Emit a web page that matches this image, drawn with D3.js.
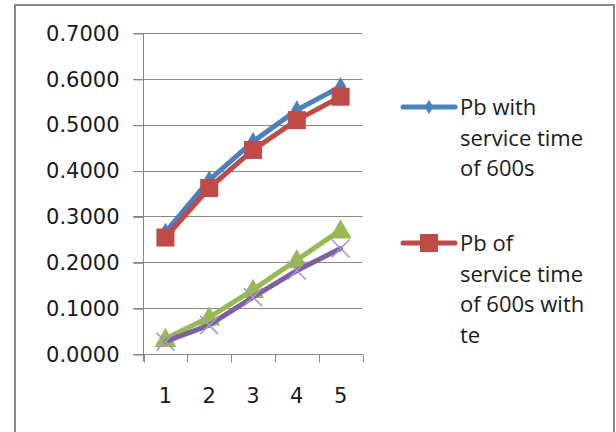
<!DOCTYPE html>
<html>
<head>
<meta charset="utf-8">
<script src="https://cdn.jsdelivr.net/npm/d3@7"></script>
<style>
  html, body { margin: 0; padding: 0; background: #ffffff; }
  svg { display: block; }
</style>
</head>
<body>
<svg id="chart" width="616" height="432"></svg>
<script>
// Blocking probability per run, four series
const categories = ["1", "2", "3", "4", "5"];
const pbService600 = [0.2650, 0.3790, 0.4630, 0.5320, 0.5830];
const pbService600Te = [0.2540, 0.3620, 0.4450, 0.5100, 0.5610];
const series3 = [0.0330, 0.0800, 0.1400, 0.2050, 0.2700];
const series4 = [0.0270, 0.0630, 0.1240, 0.1820, 0.2300];
const yTicks = [0, 0.1, 0.2, 0.3, 0.4, 0.5, 0.6, 0.7];
const legendLines1 = ["Pb with", "service time", "of 600s"];
const legendLines2 = ["Pb of", "service time", "of 600s with", "te"];

const series = [
  { values: pbService600, color: "#4D81BD", marker: "diamond" },
  { values: pbService600Te, color: "#BE4B48", marker: "square" },
  { values: series3, color: "#98B954", marker: "triangle" },
  { values: series4, color: "#7D60A0", marker: "cross" }
];

const svg = d3.select("#chart");
const axisColor = "#868686";
const labelFont = "'DejaVu Sans', Verdana, sans-serif";

// Outer frame
svg.append("rect")
  .attr("x", 15).attr("y", 5)
  .attr("width", 599).attr("height", 440)
  .attr("fill", "#ffffff")
  .attr("stroke", "#8a8a8a").attr("stroke-width", 2);

const x = d3.scaleBand().domain(categories).range([143.5, 362.5]).padding(0);
const y = d3.scaleLinear().domain([0, 0.7]).range([354, 33]);

// Horizontal gridlines
svg.append("g")
  .selectAll("line")
  .data(yTicks)
  .join("line")
  .attr("x1", 133).attr("x2", 362.5)
  .attr("y1", d => Math.round(y(d)) + 0.5)
  .attr("y2", d => Math.round(y(d)) + 0.5)
  .attr("stroke", axisColor).attr("stroke-width", 1);

// Y axis
const yAxis = svg.append("g")
  .attr("transform", "translate(143.5,0.5)")
  .call(d3.axisLeft(y).tickValues(yTicks).tickFormat(d3.format(".4f")).tickSize(10).tickPadding(14));
yAxis.select(".domain").attr("stroke", axisColor).attr("d", `M0,${y(0.7)}V${y(0) + 7}`);
yAxis.selectAll(".tick line").attr("stroke", axisColor);
yAxis.selectAll(".tick text")
  .attr("fill", "#1a1a1a")
  .style("font-family", labelFont)
  .style("font-size", "21px");

// X axis: category labels centred in bands, tick marks on band edges
const xAxis = svg.append("g").attr("transform", `translate(0,${Math.round(y(0)) + 0.5})`);
xAxis.append("line")
  .attr("x1", 133).attr("x2", 362.5)
  .attr("stroke", axisColor);
const edges = categories.map(c => x(c)).concat([x(categories[categories.length - 1]) + x.bandwidth()]);
xAxis.selectAll("line.edge")
  .data(edges)
  .join("line")
  .attr("class", "edge")
  .attr("x1", d => Math.round(d) + 0.5).attr("x2", d => Math.round(d) + 0.5)
  .attr("y1", 0).attr("y2", 8)
  .attr("stroke", axisColor);
xAxis.selectAll("text")
  .data(categories)
  .join("text")
  .attr("x", d => x(d) + x.bandwidth() / 2)
  .attr("y", 48)
  .attr("text-anchor", "middle")
  .attr("fill", "#1a1a1a")
  .style("font-family", labelFont)
  .style("font-size", "21px")
  .text(d => d);

// Marker shapes
function drawMarker(g, type, cx, cy, color, scale) {
  const s = scale || 1;
  if (type === "diamond") {
    g.append("path")
      .attr("d", d3.symbol(d3.symbolDiamond, 110 * s * s)())
      .attr("transform", `translate(${cx},${cy})`)
      .attr("fill", color);
  } else if (type === "square") {
    const h = 9 * s;
    g.append("rect")
      .attr("x", cx - h).attr("y", cy - h)
      .attr("width", 2 * h).attr("height", 2 * h)
      .attr("fill", color);
  } else if (type === "triangle") {
    const h = 11 * s;
    g.append("path")
      .attr("d", `M${cx},${cy - h}L${cx + h},${cy + h * 0.75}L${cx - h},${cy + h * 0.75}Z`)
      .attr("fill", color);
  } else if (type === "cross") {
    const h = 9 * s;
    g.append("path")
      .attr("d", `M${cx - h},${cy - h}L${cx + h},${cy + h}M${cx - h},${cy + h}L${cx + h},${cy - h}`)
      .attr("stroke", "#a995c6").attr("stroke-width", 1.5).attr("fill", "none");
  }
}

const cx = d => x(d) + x.bandwidth() / 2;
const line = d3.line().x(d => cx(d.cat)).y(d => y(d.v));

series.forEach(s => {
  const pts = categories.map((c, i) => ({ cat: c, v: s.values[i] }));
  const g = svg.append("g");
  g.append("path")
    .datum(pts)
    .attr("d", line)
    .attr("fill", "none")
    .attr("stroke", s.color)
    .attr("stroke-width", 5)
    .attr("stroke-linejoin", "round")
    .attr("stroke-linecap", "round");
  pts.forEach(p => drawMarker(g, s.marker, cx(p.cat), y(p.v), s.color));
});

// Legend
const legend = [
  { lines: legendLines1, s: series[0], y: 107 },
  { lines: legendLines2, s: series[1], y: 243 }
];
legend.forEach(item => {
  const g = svg.append("g");
  g.append("line")
    .attr("x1", 403).attr("x2", 455)
    .attr("y1", item.y).attr("y2", item.y)
    .attr("stroke", item.s.color).attr("stroke-width", 5)
    .attr("stroke-linecap", "round");
  drawMarker(g, item.s.marker, 429, item.y, item.s.color, item.s.marker === "diamond" ? 0.75 : 1);
  const t = g.append("text")
    .attr("x", 460)
    .attr("y", item.y + 8)
    .attr("fill", "#1a1a1a")
    .style("font-family", "'Open Sans', sans-serif")
    .style("font-size", "22px");
  item.lines.forEach((ln, i) => {
    t.append("tspan").attr("x", 460).attr("dy", i === 0 ? 0 : 30.5).text(ln);
  });
});
</script>
</body>
</html>
